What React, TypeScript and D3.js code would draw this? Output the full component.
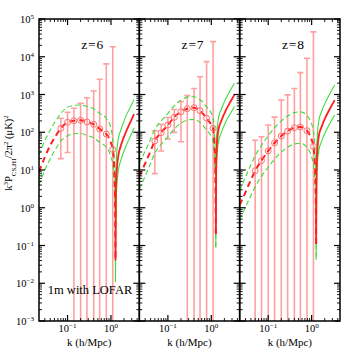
import React from "react";
import * as d3 from "d3";

// panel labels
const redshifts = ["z=6", "z=7", "z=8"];

// k samples for the model curves (before and after the zero crossing)
const kCurve = [0.022, 0.03, 0.04, 0.05, 0.07, 0.1, 0.14, 0.2, 0.28, 0.4, 0.55, 0.78, 1.0, 1.1, 1.18, 1.24, 1.27];
const kRise = [1.27, 1.3, 1.37, 1.46, 1.7, 2.2, 2.8, 3.4];

// z=6
const red6 = [8.9, 22, 45, 71, 127, 184, 202, 207, 187, 162, 122, 90, 53, 35, 12.6, 2.0, 0.04];
const upper6 = [25, 60, 115, 178, 316, 457, 513, 525, 479, 417, 316, 234, 126, 63, 20, 4, 0.1];
const lower6 = [4, 10, 20, 32, 58, 81, 91, 93, 83, 71, 54, 40, 22, 14, 5, 0.8, 0.011];
const red6Rise = [0.04, 3.2, 11, 22, 45, 100, 186, 302];
const upper6Rise = [0.1, 10, 32, 63, 117, 263, 468, 741];
const lower6Rise = [0.011, 1, 4, 8.9, 18.6, 42, 79, 129];

// z=7
const red7 = [6.8, 15, 32, 59, 98, 155, 251, 351, 421, 447, 372, 234, 158, 126, 50, 10, 0.2];
const upper7 = [15, 32, 66, 120, 200, 316, 501, 708, 851, 871, 724, 468, 316, 240, 100, 20, 0.4];
const lower7 = [3.1, 6.9, 15, 28, 48, 76, 123, 174, 209, 219, 182, 115, 76, 56, 20, 3.2, 0.09];
const red7Rise = [0.2, 16, 63, 115, 200, 398, 661, 977];
const upper7Rise = [0.4, 32, 126, 234, 407, 813, 1349, 1995];
const lower7Rise = [0.09, 6.3, 28, 55, 98, 200, 324, 479];

// z=8
const red8 = [1.17, 2.6, 5.5, 9.5, 17.8, 32, 52, 79, 107, 132, 138, 110, 63, 42, 16, 3.2, 0.11];
const upper8 = [2.8, 6.6, 13.8, 24, 45, 81, 132, 200, 269, 331, 347, 275, 166, 107, 40, 7.9, 0.25];
const lower8 = [0.48, 1.05, 2.1, 3.6, 6.8, 12, 19.5, 29.5, 40, 49, 51, 40, 22, 14, 5, 1, 0.042];
const red8Rise = [0.11, 10, 40, 79, 141, 282, 479, 708];
const upper8Rise = [0.25, 25, 100, 200, 355, 708, 1202, 1778];
const lower8Rise = [0.042, 3.2, 16, 32, 58, 115, 195, 288];

// measured band powers with 1-sigma errors
const kBar6 = [0.07, 0.1, 0.14, 0.2, 0.28, 0.4, 0.55, 0.78, 1.1];
const pBar6 = [127, 184, 202, 207, 187, 162, 122, 90, 35];
const sBar6 = [107, 155, 229, 378, 635, 1078, 2408, 6370, 18415];

const kBar7 = [0.05, 0.07, 0.1, 0.14, 0.2, 0.28, 0.4, 0.55, 0.78, 1.1];
const pBar7 = [59, 97, 156, 249, 351, 421, 447, 372, 234, 127];
const sBar7 = [51, 65, 90, 150, 295, 512, 998, 2579, 7179, 24992];

const kBar8 = [0.05, 0.07, 0.1, 0.14, 0.2, 0.28, 0.4, 0.55, 0.78, 1.1];
const pBar8 = [9.5, 17.8, 32, 52, 79, 107, 132, 138, 110, 42];
const sBar8 = [52, 58, 123, 199, 629, 870, 1313, 3664, 9010, 45667];

const yTickExp = [-3, -2, -1, 0, 1, 2, 3, 4, 5];
const xTickExp = [-1, 0];

const panels = [
  { red: red6, upper: upper6, lower: lower6, redR: red6Rise, upR: upper6Rise, loR: lower6Rise, k: kBar6, p: pBar6, s: sBar6 },
  { red: red7, upper: upper7, lower: lower7, redR: red7Rise, upR: upper7Rise, loR: lower7Rise, k: kBar7, p: pBar7, s: sBar7 },
  { red: red8, upper: upper8, lower: lower8, redR: red8Rise, upR: upper8Rise, loR: lower8Rise, k: kBar8, p: pBar8, s: sBar8 },
];

const W = 359;
const H = 359;
const left = 39;
const right = 340;
const top = 19;
const bottom = 321;
const panelW = (right - left) / 3;

const RED = "#ff1f1f";
const GREEN = "#3cdc3c";
const PINK = "#ffa0a0";
const FONT = "'Liberation Serif', 'DejaVu Serif', serif";

const y = d3.scaleLog().domain([1e-3, 1e5]).range([bottom, top]);

const sup = (e: number) => (e < 0 ? "\u2212" + Math.abs(e) : String(e));

function Panel({ i }: { i: number }) {
  const d = panels[i];
  const x0 = left + i * panelW;
  const x = d3.scaleLog().domain([0.022, 4.5]).range([x0, x0 + panelW]);

  const line = d3
    .line<[number, number]>()
    .x((p) => x(p[0]))
    .y((p) => y(p[1]))
    .curve(d3.curveMonotoneX);
  const pts = (ks: number[], vs: number[]) => ks.map((k, j) => [k, vs[j]] as [number, number]);

  // minor/major ticks
  const xTicks: { v: number; major: boolean }[] = [];
  for (let e = -2; e <= 0; e++) {
    for (let m = 1; m <= 9; m++) {
      const v = m * Math.pow(10, e);
      if (v >= 0.022 && v <= 4.5) xTicks.push({ v, major: m === 1 });
    }
  }
  const yTicks: { v: number; major: boolean }[] = [];
  for (let e = -3; e <= 5; e++) {
    for (let m = 1; m <= 9; m++) {
      const v = m * Math.pow(10, e);
      if (v <= 1e5) yTicks.push({ v, major: m === 1 });
    }
  }
  const clipId = `clip${i}`;

  return (
    <g>
      <defs>
        <clipPath id={clipId}>
          <rect x={x0} y={top} width={panelW} height={bottom - top} />
        </clipPath>
      </defs>
      <g clipPath={`url(#${clipId})`}>
        {/* error bars */}
        {d.k.map((k, j) => {
          const hi = d.p[j] + d.s[j];
          const lo = d.p[j] - d.s[j];
          const yl = lo > 0 ? y(lo) : bottom + 2;
          return (
            <g key={j} stroke={PINK} strokeWidth={1.6}>
              <line x1={x(k)} x2={x(k)} y1={y(hi)} y2={yl} />
              <line x1={x(k) - 3} x2={x(k) + 3} y1={y(hi)} y2={y(hi)} />
              {lo > 0 && <line x1={x(k) - 3} x2={x(k) + 3} y1={yl} y2={yl} />}
            </g>
          );
        })}
        {/* model curves */}
        <path d={line(pts(kCurve, d.upper))!} fill="none" stroke={GREEN} strokeWidth={1.1} strokeDasharray="5,3" />
        <path d={line(pts(kCurve, d.lower))!} fill="none" stroke={GREEN} strokeWidth={1.1} strokeDasharray="5,3" />
        <path d={line(pts(kRise, d.upR))!} fill="none" stroke={GREEN} strokeWidth={1.1} />
        <path d={line(pts(kRise, d.loR))!} fill="none" stroke={GREEN} strokeWidth={1.1} />
        <path d={line(pts(kCurve, d.red))!} fill="none" stroke={RED} strokeWidth={2} strokeDasharray="6,4" />
        <path d={line(pts(kRise, d.redR))!} fill="none" stroke={RED} strokeWidth={1.8} />
        {d.k.map((k, j) => (
          <circle key={j} cx={x(k)} cy={y(d.p[j])} r={3} fill="none" stroke="#ff7070" strokeWidth={1} />
        ))}
      </g>
      {/* frame */}
      <rect x={x0} y={top} width={panelW} height={bottom - top} fill="none" stroke="#000" strokeWidth={1.5} />
      {/* x ticks */}
      {xTicks.map((t, j) => {
        const len = t.major ? 6 : 3;
        return (
          <g key={j} stroke="#000" strokeWidth={t.major ? 1.2 : 0.9}>
            <line x1={x(t.v)} x2={x(t.v)} y1={bottom} y2={bottom - len} />
            <line x1={x(t.v)} x2={x(t.v)} y1={top} y2={top + len} />
          </g>
        );
      })}
      {/* y ticks */}
      {yTicks.map((t, j) => {
        const len = t.major ? 6 : 3;
        return (
          <g key={j} stroke="#000" strokeWidth={t.major ? 1.2 : 0.9}>
            <line x1={x0} x2={x0 + len} y1={y(t.v)} y2={y(t.v)} />
            <line x1={x0 + panelW} x2={x0 + panelW - len} y1={y(t.v)} y2={y(t.v)} />
          </g>
        );
      })}
      {/* x tick labels */}
      {xTickExp.map((e) => (
        <text key={e} x={x(Math.pow(10, e))} y={332} textAnchor="middle" fontSize={10.5} fontFamily={FONT}>
          10<tspan baselineShift="super" fontSize={7}>{sup(e)}</tspan>
        </text>
      ))}
      <text x={x0 + panelW / 2} y={346} textAnchor="middle" fontSize={11} fontFamily={FONT}>
        k (h/Mpc)
      </text>
      <text x={x0 + panelW / 2 + 3.5} y={49} textAnchor="middle" fontSize={13.5} letterSpacing={0.8} fontFamily={FONT}>
        {redshifts[i]}
      </text>
    </g>
  );
}

export default function App() {
  return (
    <div style={{ position: "fixed", left: 0, top: 0, width: W, height: H, background: "#fff" }}>
      <svg width={W} height={H} style={{ display: "block" }}>
        <rect width={W} height={H} fill="#fff" />
        {[0, 1, 2].map((i) => (
          <Panel key={i} i={i} />
        ))}
        {yTickExp.map((e) => (
          <text key={e} x={34} y={y(Math.pow(10, e)) + 4} textAnchor="end" fontSize={10.5} fontFamily={FONT}>
            10<tspan baselineShift="super" fontSize={7}>{sup(e)}</tspan>
          </text>
        ))}
        <text transform="translate(11.5,153) rotate(-90)" textAnchor="middle" fontSize={10.5} fontFamily={FONT}>
          k<tspan baselineShift="super" fontSize={7}>3</tspan>P<tspan baselineShift="sub" fontSize={7}>CS,HI</tspan>
          /2π<tspan baselineShift="super" fontSize={7}>2</tspan> (μK)<tspan baselineShift="super" fontSize={7}>2</tspan>
        </text>
        <text x={90} y={294} textAnchor="middle" fontSize={12.5} fontFamily={FONT}>
          1m with LOFAR
        </text>
      </svg>
    </div>
  );
}
